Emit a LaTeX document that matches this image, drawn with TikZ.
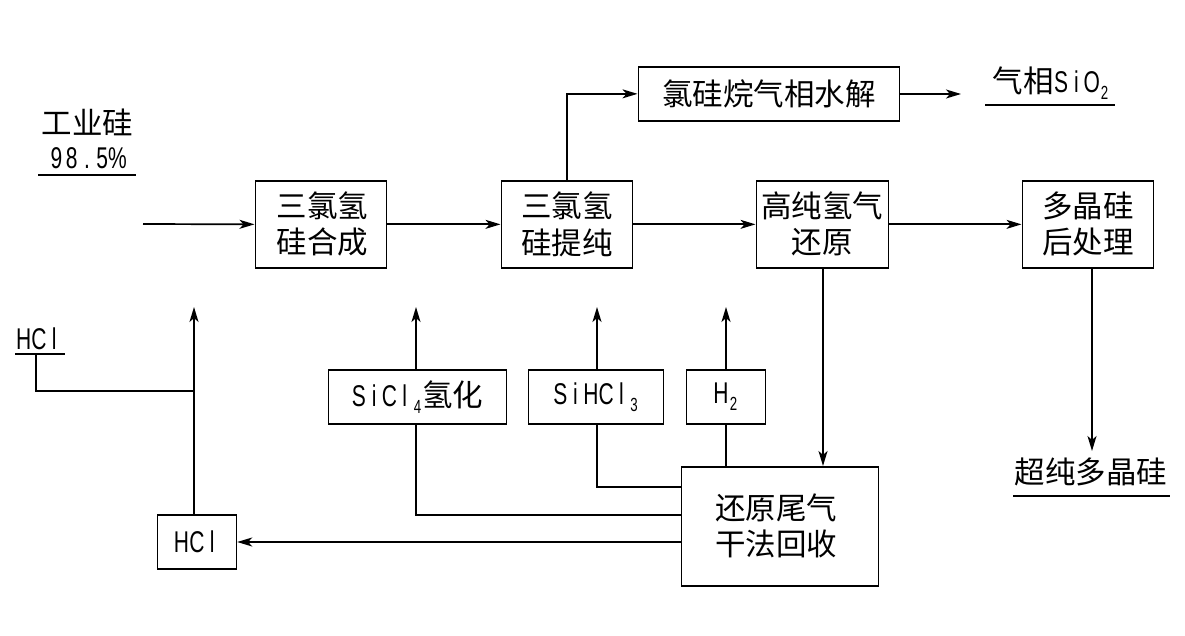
\documentclass[tikz,border=0pt]{standalone}
\usepackage{fontspec}
\setmainfont{Noto Sans CJK SC}
\newfontfamily\lat[FakeStretch=0.7]{Liberation Sans}
\usetikzlibrary{arrows.meta}
\newcommand{\mc}[1]{\makebox[15.3pt]{\fontsize{30}{30}\lat #1}}
\newcommand{\sbs}[1]{\makebox[10pt]{\raisebox{-7pt}{\fontsize{19}{19}\lat #1}}}
\begin{document}
\begin{tikzpicture}[x=1pt,y=-1pt,
 box/.style={draw=black,line width=1.7pt,fill=white,inner sep=0pt,align=center,font=\fontsize{30.5}{36}\selectfont},
 lab/.style={inner sep=0pt,font=\fontsize{30.5}{36}\selectfont},
 lnk/.style={line width=1.7pt},
 arr/.style={lnk,-{Stealth[length=15pt,width=9pt,inset=4pt]}},
 under/.style={line width=1.7pt}]
\useasboundingbox (0,0) rectangle (1185,636);
\fill[white] (0,0) rectangle (1185,636);
\node[box,minimum width=261pt,minimum height=54pt,anchor=north west] (a) at (637.5,66) {氯硅烷气相水解};
\node[box,minimum width=131pt,minimum height=87pt,anchor=north west] (b) at (254.5,180) {\hspace*{3pt}三氯氢\\\hspace*{3pt}硅合成};
\node[box,minimum width=131pt,minimum height=87pt,anchor=north west] (c) at (500.5,180) {三氯氢\\硅提纯};
\node[box,minimum width=132pt,minimum height=87pt,anchor=north west] (d) at (755.5,180) {高纯氢气\\还原};
\node[box,minimum width=131pt,minimum height=87pt,anchor=north west] (e) at (1021.5,180) {多晶硅\\后处理};
\node[box,minimum width=178pt,minimum height=54pt,anchor=north west] (f) at (327.5,369) {\raisebox{-1.5pt}{\mc{S}\mc{i}\mc{C}\mc{l}\sbs{4}氢化}};
\node[box,minimum width=135pt,minimum height=54pt,anchor=north west] (g) at (527.5,369) {\raisebox{-1.5pt}{\mc{S}\mc{i}\mc{H}\mc{C}\mc{l}\sbs{3}}};
\node[box,minimum width=79pt,minimum height=54pt,anchor=north west] (h) at (685.5,369) {\raisebox{-1.5pt}{\mc{H}\sbs{2}}};
\node[box,minimum width=197pt,minimum height=119pt,anchor=north west] (i) at (680.5,466) {\hspace*{-7pt}还原尾气\\\hspace*{-7pt}干法回收};
\node[box,minimum width=79pt,minimum height=54pt,anchor=north west] (j) at (156.5,514) {\raisebox{-1.5pt}{\mc{H}\mc{C}\mc{l}}};
\node[lab] (t1) at (87.5,122) {工业硅};
\node[lab] (t2) at (87,158) {\mc{9}\mc{8}\mc{.}\mc{5}\mc{\%}};
\node[lab] (t3) at (1051,83) {气相\mc{S}\mc{i}\mc{O}\sbs{2}};
\node[lab] (t4) at (1091,472) {超纯多晶硅};
\node[lab] (t5) at (39,339) {\mc{H}\mc{C}\mc{l}};
\draw[under] (38,175)--(136,175) (985,105)--(1115,105) (1013,496)--(1170,496) (15,354)--(65,354);
\coordinate (s1) at (143,224);
\coordinate (q) at (36,354);
\coordinate (r) at (194,391);
\coordinate (ae) at (961,94);
\draw[arr] (s1)--(b.west);
\draw[arr] (b.east)--(c.west);
\draw[arr] (c.east)--(d.west);
\draw[arr] (d.east)--(e.west);
\draw[arr] (c.north -| 567,0)|-(a.west);
\draw[arr] (a.east |- 0,94)--(ae);
\draw[arr] (1092,267)--(1092,451);
\draw[arr] (823,267)--(823,466);
\draw[arr] (194,514)--(194,307);
\draw[lnk] (q)--(36,391)--(r);
\draw[arr] (i.west |- 0,542)--(j.east |- 0,542);
\draw[lnk] (i.west |- 0,515)-|(416,423);
\draw[arr] (416,369)--(416,307);
\draw[lnk] (i.west |- 0,487)-|(597,423);
\draw[arr] (597,369)--(597,307);
\draw[lnk] (726,466)--(726,423);
\draw[arr] (726,369)--(726,307);
\end{tikzpicture}
\end{document}
